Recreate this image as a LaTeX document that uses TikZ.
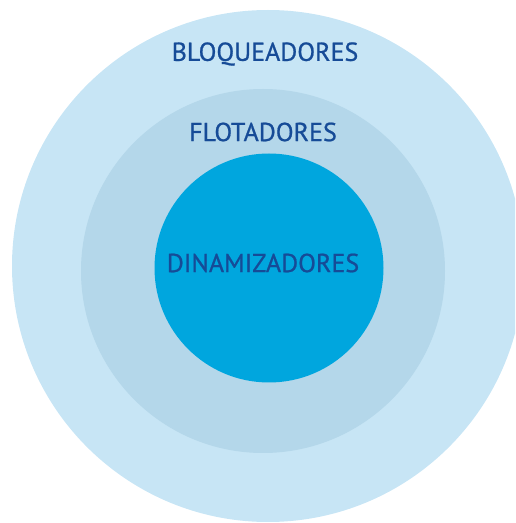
\documentclass[tikz,border=0pt]{standalone}
\usepackage{fontspec}
\setmainfont{PT Sans}
\newfontfamily\labelfont[FakeBold=0.8]{PT Sans}
\usepackage{xcolor}

\definecolor{outerblue}{HTML}{C7E5F5}
\definecolor{midblue}{HTML}{B4D7EA}
\definecolor{coreblue}{HTML}{00A6DE}
\definecolor{labelblue}{HTML}{164B97}

\begin{document}
\begin{tikzpicture}[x=1pt, y=1pt,
  ring/.style={circle, draw=none, inner sep=0pt},
  ringlabel/.style={text=labelblue, font=\labelfont\fontsize{26}{26}\selectfont, inner sep=0pt}]

\def\W{515}
\def\H{523}

\useasboundingbox (0,0) rectangle (\W,\H);
\clip (0,0) rectangle (\W,\H);

% circles, outer to inner
\node[ring, fill=outerblue, minimum size=512] (bloq) at (268,\H-266) {};
\node[ring, fill=midblue,   minimum size=364] (flot) at (263,\H-271) {};
\node[ring, fill=coreblue,  minimum size=229] (dina) at (269,\H-268) {};

% labels
\node[ringlabel] (bloqtext) at (265,\H-54)  {BLOQUEADORES};
\node[ringlabel] (flottext) at (263,\H-132) {FLOTADORES};
\node[ringlabel] (dinatext) at (263,\H-263) {DINAMIZADORES};

\end{tikzpicture}
\end{document}
